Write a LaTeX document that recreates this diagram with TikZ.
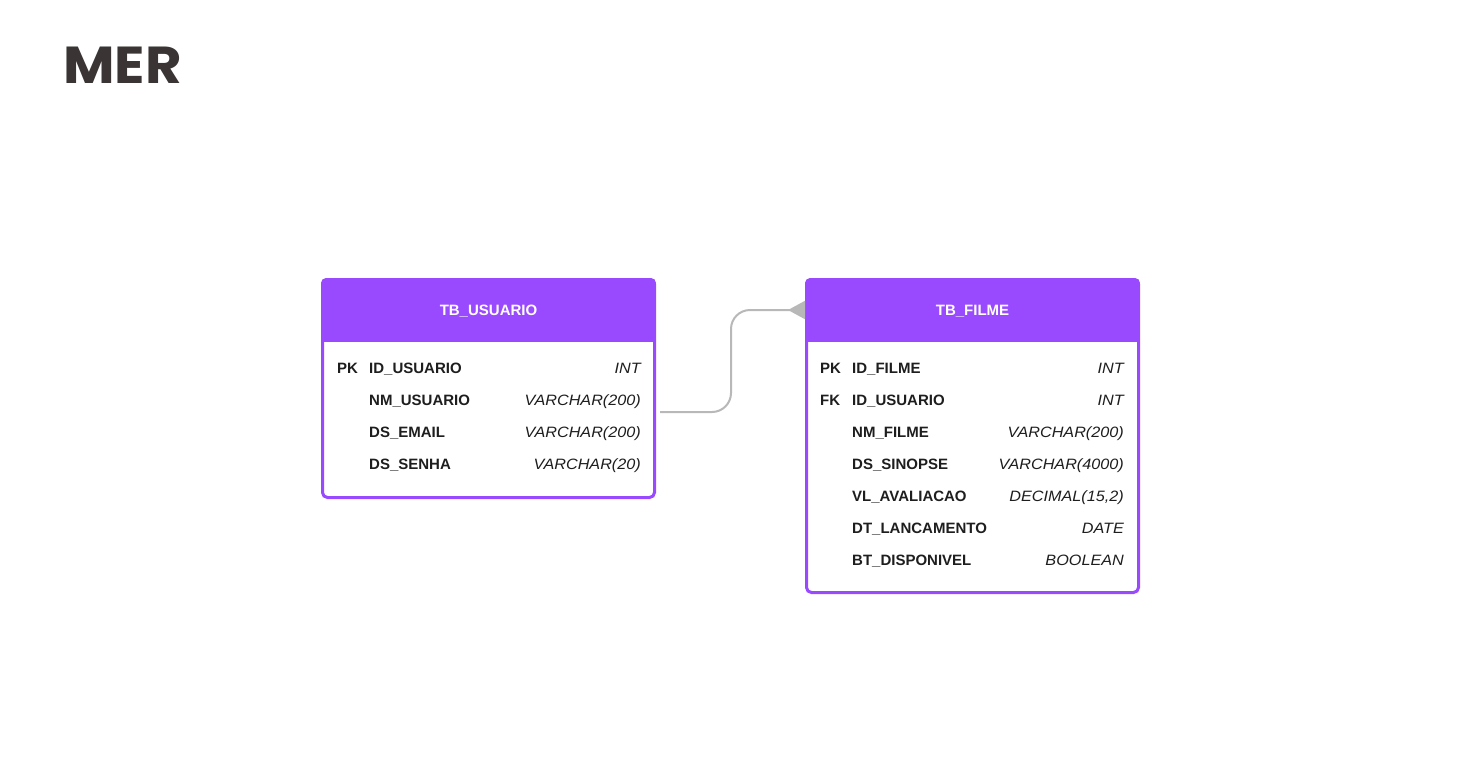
\documentclass[tikz,border=0pt]{standalone}
\usepackage{fontspec}
\setmainfont{Liberation Sans}
\newfontfamily\titlefont[FakeStretch=1.08]{Poppins}
\newfontfamily\typefont[FakeStretch=1.08]{Liberation Sans}
\usetikzlibrary{arrows.meta}
\definecolor{tablepurple}{HTML}{994AFF}
\definecolor{linkgray}{HTML}{B8B8B8}
\definecolor{titleink}{HTML}{3A3434}
\definecolor{rowink}{HTML}{1E1E1E}

\tikzset{
  tablebox/.style={draw=tablepurple, line width=3pt, rounded corners=5pt,
    fill=white, inner sep=0pt, outer sep=0pt, anchor=north west},
  headtext/.style={text=white, font=\fontsize{15}{15}\selectfont\bfseries,
    inner sep=0pt, anchor=base},
  keytext/.style={text=rowink, font=\fontsize{15}{15}\selectfont\bfseries,
    inner sep=0pt, anchor=base west},
  coltext/.style={text=rowink, font=\fontsize{15}{15}\selectfont\bfseries,
    inner sep=0pt, anchor=base west},
  typetext/.style={text=rowink, font=\typefont\fontsize{15}{15}\selectfont\itshape,
    inner sep=0pt, anchor=base east},
  link/.style={draw=linkgray, line width=2pt, rounded corners=19pt,
    -{Triangle[reversed, length=17pt, width=18pt]}},
}

\begin{document}
\begin{tikzpicture}[x=1pt, y=-1pt]
\path[use as bounding box, fill=white] (0,0) rectangle (1464,758);

% heading
\node[anchor=base west, inner sep=0pt, text=titleink,
  font=\titlefont\fontsize{52}{52}\selectfont\bfseries] (title) at (63,83) {MER};

% ---------------- TB_USUARIO ----------------
\node[tablebox, minimum width=332pt, minimum height=218pt] (usuario) at (322.5,279.5) {};
\begin{scope}
  \clip[rounded corners=5pt] (321,278) rectangle (656,499);
  \fill[tablepurple] (321,278) rectangle (656,342);
\end{scope}
\node[headtext] (usuario-head) at (488.5,315.4) {TB\_USUARIO};

\node[keytext] (u-k1) at (337,373.4) {PK};
\node[coltext] (u-c1) at (369,373.4) {ID\_USUARIO};
\node[typetext] (u-t1) at (641,373.4) {INT};
\node[coltext] (u-c2) at (369,405.4) {NM\_USUARIO};
\node[typetext] (u-t2) at (641,405.4) {VARCHAR(200)};
\node[coltext] (u-c3) at (369,437.4) {DS\_EMAIL};
\node[typetext] (u-t3) at (641,437.4) {VARCHAR(200)};
\node[coltext] (u-c4) at (369,469.4) {DS\_SENHA};
\node[typetext] (u-t4) at (641,469.4) {VARCHAR(20)};

% ---------------- TB_FILME ----------------
\node[tablebox, minimum width=332pt, minimum height=313pt] (filme) at (806.5,279.5) {};
\begin{scope}
  \clip[rounded corners=5pt] (805,278) rectangle (1140,594);
  \fill[tablepurple] (805,278) rectangle (1140,342);
\end{scope}
\node[headtext] (filme-head) at (972.5,315.4) {TB\_FILME};

\node[keytext] (f-k1) at (820,373.4) {PK};
\node[coltext] (f-c1) at (852,373.4) {ID\_FILME};
\node[typetext] (f-t1) at (1124,373.4) {INT};
\node[keytext] (f-k2) at (820,405.4) {FK};
\node[coltext] (f-c2) at (852,405.4) {ID\_USUARIO};
\node[typetext] (f-t2) at (1124,405.4) {INT};
\node[coltext] (f-c3) at (852,437.4) {NM\_FILME};
\node[typetext] (f-t3) at (1124,437.4) {VARCHAR(200)};
\node[coltext] (f-c4) at (852,469.4) {DS\_SINOPSE};
\node[typetext] (f-t4) at (1124,469.4) {VARCHAR(4000)};
\node[coltext] (f-c5) at (852,501.4) {VL\_AVALIACAO};
\node[typetext] (f-t5) at (1124,501.4) {DECIMAL(15,2)};
\node[coltext] (f-c6) at (852,533.4) {DT\_LANCAMENTO};
\node[typetext] (f-t6) at (1124,533.4) {DATE};
\node[coltext] (f-c7) at (852,565.4) {BT\_DISPONIVEL};
\node[typetext] (f-t7) at (1124,565.4) {BOOLEAN};

% relationship between the two tables
\coordinate (link-start) at (660,412);
\coordinate (link-end) at (805,310);
\draw[link] (link-start) -- (731,412) -- (731,310) -- (link-end);
\end{tikzpicture}
\end{document}
